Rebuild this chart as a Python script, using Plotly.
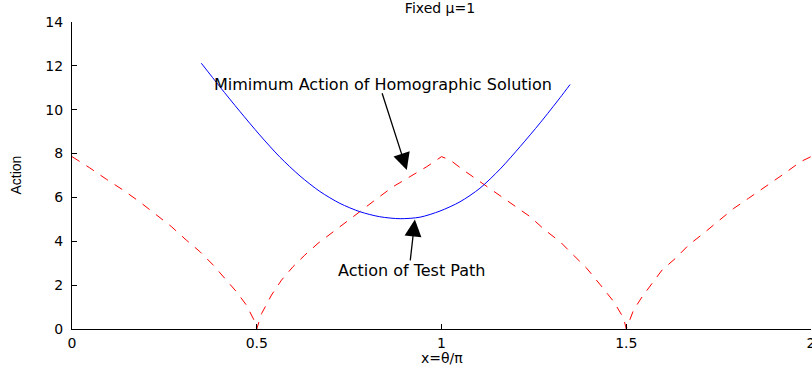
import plotly.graph_objects as go

# Action of the test path (red dashed)
test_x = [0.0, 0.047, 0.093, 0.138, 0.183, 0.228, 0.269, 0.309, 0.346, 0.382, 0.418, 0.445, 0.472, 0.495, 0.5,
          0.513, 0.540, 0.567, 0.598, 0.630, 0.666, 0.702, 0.738, 0.779, 0.820, 0.869, 0.915, 0.960, 1.0,
          1.023, 1.059, 1.104, 1.150, 1.195, 1.240, 1.280, 1.321, 1.357, 1.393, 1.430, 1.466, 1.493, 1.5,
          1.520, 1.543, 1.570, 1.597, 1.633, 1.669, 1.709, 1.746, 1.791, 1.831, 1.877, 1.922, 1.972, 2.0]
test_y = [7.86, 7.36, 6.83, 6.34, 5.80, 5.20, 4.67, 4.06, 3.53, 2.92, 2.23, 1.70, 1.09, 0.33, 0.0,
          0.70, 1.55, 2.23, 2.84, 3.37, 3.91, 4.36, 4.82, 5.35, 5.88, 6.49, 6.95, 7.40, 7.86,
          7.71, 7.25, 6.72, 6.19, 5.65, 5.12, 4.51, 3.98, 3.37, 2.77, 2.01, 1.25, 0.49, 0.0,
          0.87, 1.47, 2.08, 2.69, 3.22, 3.83, 4.36, 4.89, 5.50, 5.96, 6.49, 7.02, 7.63, 7.86]

# Minimum action of the homographic solution (blue)
homo_x = [0.350, 0.400, 0.454, 0.508, 0.562, 0.617, 0.671, 0.725, 0.779, 0.833, 0.888,
          0.942, 0.996, 1.050, 1.104, 1.159, 1.213, 1.267, 1.321, 1.348]
homo_y = [12.12, 11.05, 9.93, 8.85, 7.85, 6.98, 6.27, 5.73, 5.35, 5.12, 5.03,
          5.10, 5.38, 5.80, 6.42, 7.30, 8.32, 9.40, 10.55, 11.15]

x_ticks = [0, 0.5, 1, 1.5, 2]
x_labels = ["0", "0.5", "1", "1.5", "2"]
y_ticks = [0, 2, 4, 6, 8, 10, 12, 14]

FONT = "DejaVu Sans"

fig = go.Figure()
fig.add_trace(go.Scatter(x=test_x, y=test_y, mode="lines",
                         line=dict(color="#ff0000", width=1, dash="9px,8px")))
fig.add_trace(go.Scatter(x=homo_x, y=homo_y, mode="lines",
                         line=dict(color="#0000ff", width=1, shape="spline", smoothing=0.8)))

# labels + arrows
fig.add_annotation(x=0.841, y=11.13, text="Mimimum Action of Homographic Solution",
                   showarrow=False, font=dict(family=FONT, size=16, color="black"))
fig.add_annotation(x=0.906, y=7.25, ax=0.838, ay=10.82, axref="x", ayref="y", text="",
                   showarrow=True, arrowhead=2, arrowsize=2.6, arrowwidth=1.3, arrowcolor="black")
fig.add_annotation(x=0.920, y=2.69, text="Action of Test Path",
                   showarrow=False, font=dict(family=FONT, size=16, color="black"))
fig.add_annotation(x=0.928, y=4.99, ax=0.915, ay=3.06, axref="x", ayref="y", text="",
                   showarrow=True, arrowhead=2, arrowsize=2.6, arrowwidth=1.3, arrowcolor="black")

# axis titles
fig.add_annotation(x=0.5, y=-0.093, xref="paper", yref="paper", yanchor="middle", text="x=θ/π",
                   showarrow=False, font=dict(family=FONT, size=14, color="black"))
fig.add_annotation(x=-0.077, y=0.5, xref="paper", yref="paper", xanchor="center", text="Action",
                   showarrow=False, textangle=-90,
                   font=dict(family="Liberation Sans", size=14, color="black"))

fig.update_layout(
    width=812, height=366,
    margin=dict(l=72, r=1, t=22, b=37),
    paper_bgcolor="white", plot_bgcolor="white",
    showlegend=False,
    title=dict(text="Fixed μ=1", x=440 / 812, xref="container", xanchor="center",
               y=1 - 8 / 366, yref="container", yanchor="middle",
               font=dict(family=FONT, size=14, color="black")),
)
fig.update_xaxes(range=[0, 2], tickvals=x_ticks, ticktext=x_labels, ticks="inside", ticklen=5,
                 tickcolor="black", showline=True, linecolor="black", linewidth=1, showgrid=False,
                 zeroline=False, automargin=False, ticklabelstandoff=1, ticklabeloverflow="allow",
                 tickfont=dict(family=FONT, size=14, color="black"))
fig.update_yaxes(range=[0, 14], tickvals=y_ticks, ticks="inside", ticklen=5,
                 tickcolor="black", showline=True, linecolor="black", linewidth=1, showgrid=False,
                 zeroline=False, automargin=False, ticklabelstandoff=5,
                 tickfont=dict(family=FONT, size=14, color="black"))

# the page has a default 8px body margin; drop it so the figure fills the window
fig.write_html("out.html", config={"responsive": False, "displayModeBar": False},
               post_script="document.body.style.margin='0';document.body.style.overflow='hidden';")
